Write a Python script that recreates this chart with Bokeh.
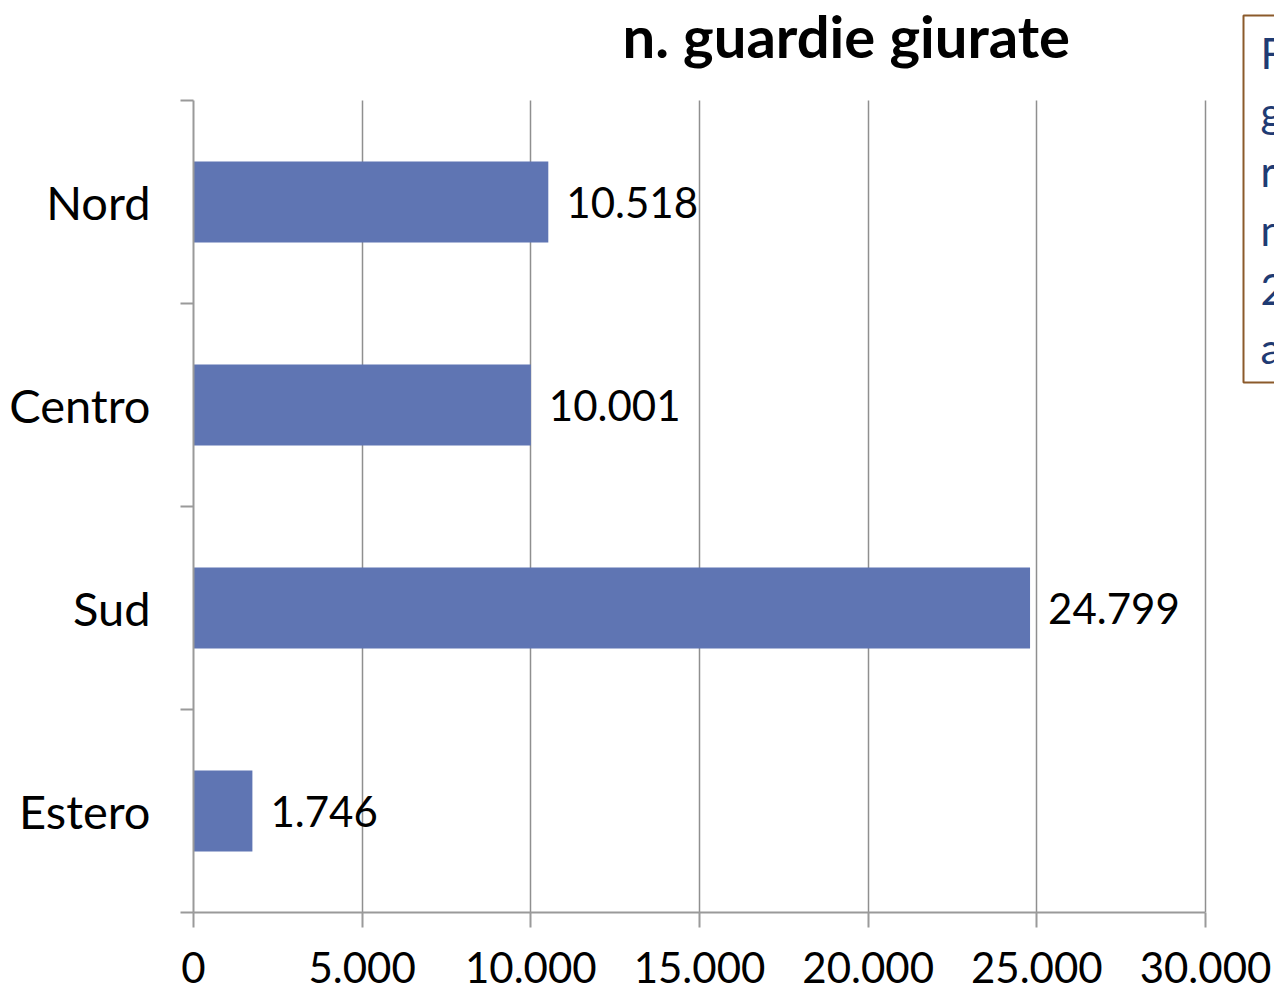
from bokeh.plotting import figure
from bokeh.models import Range1d, FixedTicker, ColumnDataSource, Label
from bokeh.embed import file_html
from bokeh.core.properties import value
from bokeh.resources import INLINE

categories = ["Nord", "Centro", "Sud", "Estero"]
guardie = [10518, 10001, 24799, 1746]
x_ticks = [0, 5000, 10000, 15000, 20000, 25000, 30000]
x_tick_labels = ["0", "5.000", "10.000", "15.000", "20.000", "25.000", "30.000"]
title_text = "n. guardie giurate"
note_lines = ["Fonte:", "guardie", "rilevate", "nel", "2012", "al"]

FONT = "Lato"
GRAY = "#9a9a9a"
W, H = 1274, 990
# pixel layout of the plotting area (axes box)
AX_L, AX_R, AX_T, AX_B = 193, 1205, 100, 912

n = len(categories)
xmax = x_ticks[-1]
ypos = [n - i - 0.5 for i in range(n)]
labels = [f"{v:,}".replace(",", ".") for v in guardie]
src = ColumnDataSource(dict(y=ypos, v=guardie, lab=labels))

# frame extends to the right and top edges so the side note and title fit inside
x_end = xmax * (W - AX_L) / (AX_R - AX_L)
y_end = n * AX_B / (AX_B - AX_T)


def px2x(px):
    return (px - AX_L) * xmax / (AX_R - AX_L)


def px2y(py):
    return (AX_B - py) * n / (AX_B - AX_T)


p = figure(width=W, height=H, output_backend="svg", toolbar_location=None,
           x_range=Range1d(0, x_end), y_range=Range1d(0, y_end),
           min_border_left=AX_L, min_border_right=0, min_border_top=0,
           min_border_bottom=H - AX_B)
p.outline_line_color = None

# vertical grid lines limited to the axes box
p.ygrid.grid_line_color = None
g = p.xgrid[0]
g.ticker = FixedTicker(ticks=x_ticks)
g.grid_line_color = "#8f8f8f"
g.grid_line_width = 1.5
g.bounds = (0, xmax)
if "cross_bounds" in g.properties():
    g.cross_bounds = (0, n)
else:
    g.grid_line_color = None
    p.segment(x0=x_ticks, x1=x_ticks, y0=[0] * len(x_ticks), y1=[n] * len(x_ticks),
              line_color="#8f8f8f", line_width=1.5)

p.hbar(y="y", left=0, right="v", height=0.4, source=src,
       fill_color="#5F75B3", line_color=None)
p.text(x="v", y="y", text="lab", source=src, x_offset=18,
       text_baseline="middle", text_align="left", text_font=value(FONT),
       text_font_size="42px", text_color="black")

xa = p.xaxis[0]
xa.bounds = (0, xmax)
xa.ticker = FixedTicker(ticks=x_ticks, minor_ticks=[])
xa.major_label_overrides = dict(zip(x_ticks, x_tick_labels))
xa.axis_line_color = GRAY
xa.axis_line_width = 2
xa.major_tick_line_color = GRAY
xa.major_tick_line_width = 2
xa.major_tick_out = 15
xa.major_tick_in = 0
xa.minor_tick_line_color = None
xa.major_label_text_font = FONT
xa.major_label_text_font_size = "42px"
xa.major_label_text_color = "black"
xa.major_label_standoff = 24

ya = p.yaxis[0]
ya.bounds = (0, n)
ya.ticker = FixedTicker(ticks=ypos, minor_ticks=list(range(n + 1)))
ya.major_label_overrides = dict(zip(ypos, categories))
ya.axis_line_color = GRAY
ya.axis_line_width = 2
ya.major_tick_line_color = None
ya.major_tick_out = 0
ya.major_tick_in = 0
ya.minor_tick_line_color = GRAY
ya.minor_tick_line_width = 2
ya.minor_tick_out = 13
ya.minor_tick_in = 0
ya.major_label_text_font = FONT
ya.major_label_text_font_size = "47px"
ya.major_label_text_color = "black"
ya.major_label_standoff = 30

title = Label(x=px2x(622), y=px2y(35), text=title_text, text_align="left",
              text_baseline="alphabetic", text_font=FONT, text_font_size="58px",
              text_font_style="bold", text_color="black")
p.add_layout(title)

note = Label(x=px2x(1243), y=px2y(15), text="\n".join(note_lines),
             text_align="left", text_baseline="top",
             text_font=FONT, text_font_size="42px", text_color="#1F3B73",
             text_line_height=1.18, border_line_color="#8B5A2B",
             border_line_width=2,
             padding=dict(left=17, right=17, top=12, bottom=10))
p.add_layout(note)

open("out.html", "w").write(file_html(p, INLINE))
